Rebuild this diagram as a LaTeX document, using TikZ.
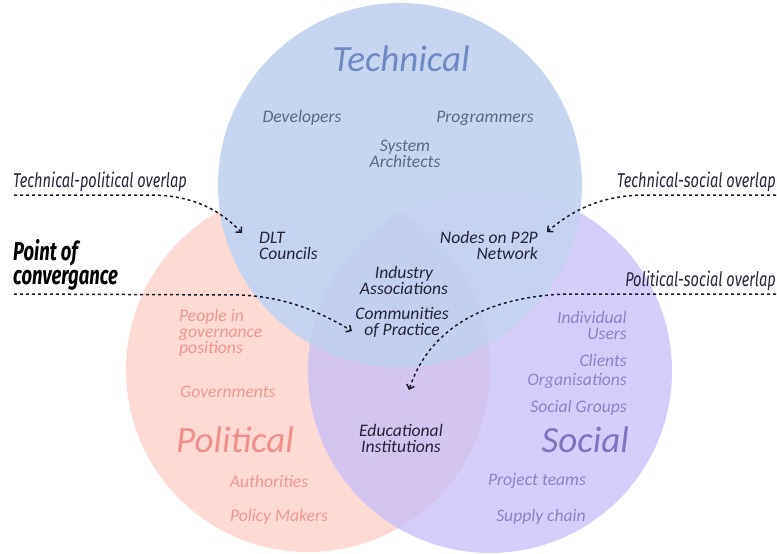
\documentclass[tikz,border=0pt]{standalone}
\usepackage{fontspec}
\setmainfont{Carlito}
\newfontfamily\cond[FakeStretch=0.73]{Fira Sans}
\newfontfamily\condb[FakeStretch=0.71]{Fira Sans}
\usetikzlibrary{arrows.meta}
\definecolor{techfill}{HTML}{C6D6F1}
\definecolor{polfill}{HTML}{FDDBD4}
\definecolor{socfill}{HTML}{D5CEFB}
\definecolor{psfill}{HTML}{D3C5EF}
\definecolor{tpfill}{HTML}{C5D4F0}
\definecolor{tsfill}{HTML}{C5D2F2}
\definecolor{tpsfill}{HTML}{C3CFEF}
\definecolor{techtxt}{HTML}{6F8AC2}
\definecolor{techitem}{HTML}{5B6886}
\definecolor{poltxt}{HTML}{F0908A}
\definecolor{politem}{HTML}{EE9890}
\definecolor{soctxt}{HTML}{7C74BE}
\definecolor{socitem}{HTML}{8A84C4}
\definecolor{ovtxt}{HTML}{25253A}
\definecolor{conncol}{HTML}{1B1B2B}
\tikzset{
  item/.style={font=\fontsize{17.6}{16}\selectfont\itshape, inner sep=0pt, align=center},
  title/.style={font=\fontsize{37}{40}\selectfont\itshape, inner sep=0pt},
  side/.style={font=\fontsize{20}{22}\selectfont\cond\itshape, inner sep=0pt, text=ovtxt},
  conn/.style={draw=conncol, line width=1.5pt, dash pattern=on 3pt off 3pt, -{Straight Barb[length=4pt,width=8pt]}}
}
\begin{document}
\begin{tikzpicture}[x=1pt,y=-1pt]
\useasboundingbox (0,0) rectangle (777,554);
\coordinate (T) at (400,185);
\coordinate (P) at (308,370);
\coordinate (S) at (490,371);
% circles
\fill[polfill] (P) circle[radius=182pt];
\fill[socfill] (S) circle[radius=182pt];
\begin{scope}
  \clip (P) circle[radius=182pt];
  \fill[psfill] (S) circle[radius=182pt];
\end{scope}
\fill[techfill] (T) circle[radius=182pt];
\begin{scope}
  \clip (T) circle[radius=182pt];
  \fill[tpfill] (P) circle[radius=182pt];
  \fill[tsfill] (S) circle[radius=182pt];
  \clip (P) circle[radius=182pt];
  \fill[tpsfill] (S) circle[radius=182pt];
\end{scope}
% titles
\node[title, text=techtxt] (ttech) at (401,59) {Technical};
\node[title, text=poltxt] (tpol) at (235,440) {Political};
\node[title, text=soctxt, anchor=east] (tsoc) at (629,440) {Social};
% technical items
\node[item, text=techitem] (dev) at (302,118) {Developers};
\node[item, text=techitem] (prog) at (485,118) {Programmers};
\node[item, text=techitem] (sys) at (405,154) {System\\Architects};
% overlaps
\node[item, text=ovtxt, align=left, anchor=west] (dlt) at (259,246) {DLT\\Councils};
\node[item, text=ovtxt, align=right, anchor=east] (p2p) at (538,245) {Nodes on P2P\\Network};
\node[item, text=ovtxt] (ind) at (404,280) {Industry\\Associations};
\node[item, text=ovtxt] (cop) at (402,322) {Communities\\of Practice};
\node[item, text=ovtxt] (edu) at (401,438) {Educational\\Institutions};
% political items
\node[item, text=politem, align=left, anchor=west] (ppl) at (179,333) {People in\\governance\\positions};
\node[item, text=politem, anchor=west] (gov) at (180,392) {Governments};
\node[item, text=politem] (auth) at (269,481) {Authorities};
\node[item, text=politem] (pm) at (279,517) {Policy Makers};
% social items
\node[item, text=socitem, align=right, anchor=east] (iu) at (627,325) {Individual\\Users};
\node[item, text=socitem, anchor=east] (cl) at (627,360) {Clients};
\node[item, text=socitem, anchor=east] (org) at (627,381) {Organisations};
\node[item, text=socitem, anchor=east] (sg) at (627,408) {Social Groups};
\node[item, text=socitem] (pt) at (537,481) {Project teams};
\node[item, text=socitem] (sc) at (541,517) {Supply chain};
% side labels
\node[side, anchor=west] (ltp) at (13,182) {Technical-political overlap};
\node[side, anchor=west, align=left, font=\fontsize{26}{24}\selectfont\condb\bfseries\itshape, text=black] (lpc) at (13,265) {Point of\\convergance};
\node[side, anchor=east] (lts) at (776,182) {Technical-social overlap};
\node[side, anchor=east] (lps) at (776,281) {Political-social overlap};
% connector coordinates
\coordinate (s1) at (14,195);
\coordinate (e1) at (242,233);
\coordinate (s2) at (14,294);
\coordinate (e2) at (352,331);
\coordinate (s3) at (776,195);
\coordinate (e3) at (547,232);
\coordinate (s4) at (776,294);
\coordinate (e4) at (409,390);
\draw[conn] (s1) -- (150,195) .. controls (195,195) and (222,212) .. (e1);
\draw[conn] (s2) -- (240,295) .. controls (290,297) and (325,315) .. (e2);
\draw[conn] (s3) -- (645,195) .. controls (600,195) and (570,212) .. (e3);
\draw[conn] (s4) -- (565,294) .. controls (470,298) and (425,340) .. (e4);
\end{tikzpicture}
\end{document}
